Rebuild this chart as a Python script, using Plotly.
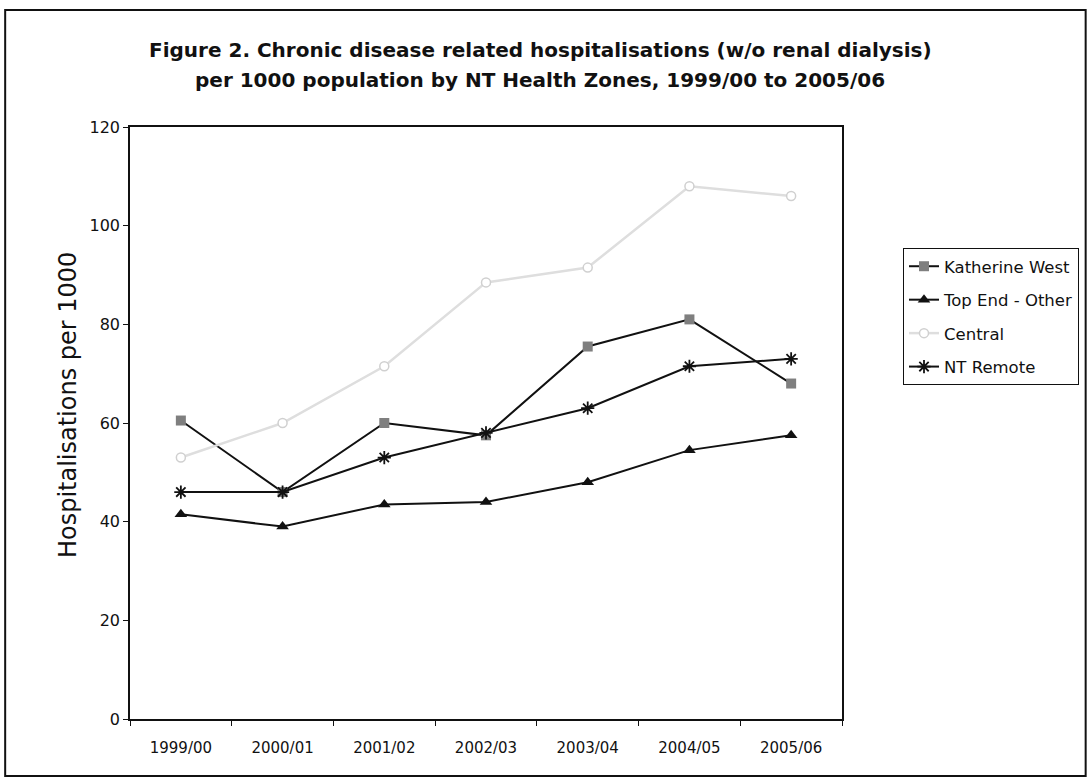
import plotly.graph_objects as go

years = ["1999/00", "2000/01", "2001/02", "2002/03", "2003/04", "2004/05", "2005/06"]
katherine_west = [60.5, 46, 60, 57.5, 75.5, 81, 68]
top_end_other = [41.5, 39, 43.5, 44, 48, 54.5, 57.5]
central = [53, 60, 71.5, 88.5, 91.5, 108, 106]
nt_remote = [46, 46, 53, 58, 63, 71.5, 73]

title_line1 = "Figure 2. Chronic disease related hospitalisations (w/o renal dialysis)"
title_line2 = "per 1000 population by NT Health Zones, 1999/00 to 2005/06"
y_title = "Hospitalisations per 1000"

FONT = "DejaVu Sans, Arial, sans-serif"
W, H = 1090, 777
L, R, T, B = 130, 247, 127, 58
PW, PH = W - L - R, H - T - B

fig = go.Figure()
fig.add_trace(go.Scatter(
    x=years, y=katherine_west, name="Katherine West", mode="lines+markers", legendgroup="a",
    line=dict(color="#111111", width=2),
    marker=dict(symbol="square", size=10, color="#7f7f7f", line=dict(width=0))))
fig.add_trace(go.Scatter(
    x=years, y=top_end_other, name="Top End - Other", mode="lines+markers", legendgroup="b",
    line=dict(color="#111111", width=2),
    marker=dict(symbol="triangle-up", size=11, color="#111111")))
fig.add_trace(go.Scatter(
    x=years, y=central, name="Central", mode="lines+markers", legendgroup="c",
    line=dict(color="#dedede", width=2.5),
    marker=dict(symbol="circle", size=9, color="white", line=dict(color="#d0d0d0", width=1.5))))
fig.add_trace(go.Scatter(
    x=years, y=nt_remote, name="NT Remote", mode="lines+markers", legendgroup="d",
    line=dict(color="#111111", width=2),
    marker=dict(symbol="asterisk-open", size=11, color="#111111", line=dict(color="#111111", width=1.8))))

fig.update_layout(
    width=W, height=H,
    margin=dict(l=L, r=R, t=T, b=B),
    paper_bgcolor="white", plot_bgcolor="white",
    font=dict(family=FONT, color="#111111"),
    xaxis=dict(
        type="category", range=[-0.5, 6.5],
        showline=True, linecolor="#111111", linewidth=1.5, mirror=True,
        ticks="outside", tickson="boundaries", ticklen=5, tickcolor="#111111",
        showgrid=False, zeroline=False, ticklabelstandoff=14,
        tickfont=dict(size=15, family=FONT)),
    yaxis=dict(
        range=[0, 120], dtick=20,
        showline=True, linecolor="#111111", linewidth=1.5, mirror=True,
        ticks="outside", ticklen=5, tickcolor="#111111",
        showgrid=False, zeroline=False,
        tickfont=dict(size=16, family=FONT)),
    legend=dict(
        x=(903 - L) / PW, y=(H - B - 248) / PH, xanchor="left", yanchor="top",
        bordercolor="#111111", borderwidth=1, bgcolor="white",
        font=dict(size=16.5, family=FONT), tracegroupgap=9, itemwidth=30),
    showlegend=True,
)

for txt, ypix in [(title_line1, 50), (title_line2, 80)]:
    fig.add_annotation(
        text="<b>" + txt + "</b>", xref="paper", yref="paper",
        x=(541 - L) / PW, y=(H - B - ypix) / PH, xanchor="center", yanchor="middle",
        showarrow=False, font=dict(size=20, family=FONT, color="#111111"))

fig.add_annotation(
    text=y_title, xref="paper", yref="paper", textangle=-90,
    x=(68 - L) / PW, y=(H - B - 405) / PH, xanchor="center", yanchor="middle",
    showarrow=False, font=dict(size=24, family=FONT, color="#111111"))

fig.add_shape(type="rect", xref="paper", yref="paper",
              x0=(5 - L) / PW, x1=(1087 - L) / PW,
              y0=(H - B - 776) / PH, y1=(H - B - 10) / PH,
              line=dict(color="#111111", width=2), fillcolor="rgba(0,0,0,0)", layer="below")

fig.write_html("out.html", config={"displayModeBar": False},
               post_script="document.body.style.margin='0px';")
